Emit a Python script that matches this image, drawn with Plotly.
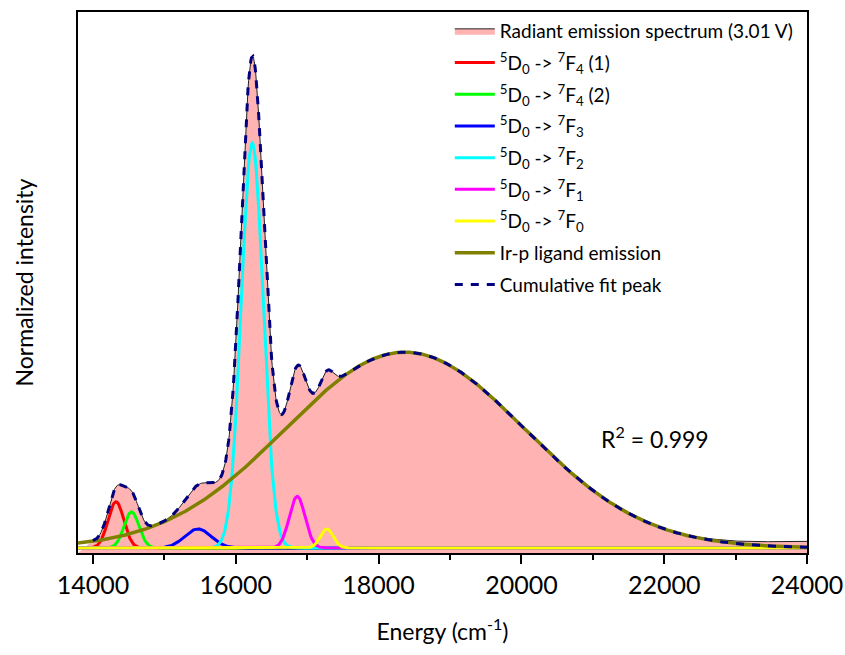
import numpy as np
import plotly.graph_objects as go

# ---- data ----
# Gaussian fit components: centre (cm-1), height (normalized), sigma (cm-1)
comp_names = [
    "<sup>5</sup>D<sub>0</sub> -&gt; <sup>7</sup>F<sub>4</sub> (1)",
    "<sup>5</sup>D<sub>0</sub> -&gt; <sup>7</sup>F<sub>4</sub> (2)",
    "<sup>5</sup>D<sub>0</sub> -&gt; <sup>7</sup>F<sub>3</sub>",
    "<sup>5</sup>D<sub>0</sub> -&gt; <sup>7</sup>F<sub>2</sub>",
    "<sup>5</sup>D<sub>0</sub> -&gt; <sup>7</sup>F<sub>1</sub>",
    "<sup>5</sup>D<sub>0</sub> -&gt; <sup>7</sup>F<sub>0</sub>",
    "Ir-p ligand emission",
]
comp_centers = [14322, 14540, 15470, 16230, 16860, 17275, 18370]
comp_heights = [0.095, 0.074, 0.039, 0.833, 0.106, 0.039, 0.403]
comp_sigmas = [110, 105, 185, 153, 110, 90, 1680]
comp_colors = ["#FF0000", "#00FF00", "#0000FF", "#00FFFF", "#FF00FF", "#FFFF00", "#808000"]

# measured spectrum deviates from the fit only in the high-energy tail
tail_x = [22000, 22500, 23000, 23500, 24000]
tail_dy = [0.0, 0.002, 0.005, 0.009, 0.012]

x_ticks = [14000, 16000, 18000, 20000, 22000, 24000]
x_minor = [15000, 17000, 19000, 21000, 23000]

x_min, x_max = 13790, 24000
spec_start = 14000
y_min, y_max = -0.0105, 1.103

x_full = np.arange(x_min, x_max + 1, 10.0)
x_spec = np.arange(spec_start, x_max + 1, 10.0)


def gauss(x, c, h, s):
    return h * np.exp(-((x - c) ** 2) / (2 * s ** 2))


comps_full = [gauss(x_full, c, h, s) for c, h, s in zip(comp_centers, comp_heights, comp_sigmas)]
cum_fit = sum(gauss(x_spec, c, h, s) for c, h, s in zip(comp_centers, comp_heights, comp_sigmas))
spectrum = cum_fit + np.interp(x_spec, tail_x, tail_dy)

fig = go.Figure()
# baseline for the fill
fig.add_trace(go.Scatter(x=[x_min, x_max], y=[y_min, y_min], mode="lines",
                         line=dict(width=0, color="rgba(0,0,0,0)"), showlegend=False, hoverinfo="skip"))
fig.add_trace(go.Scatter(x=x_spec, y=spectrum, mode="lines", fill="tonexty",
                         fillcolor="#FFB3B3", line=dict(color="#222222", width=1),
                         name="Radiant emission spectrum (3.01 V)", legendgroup="g0"))
for i, (name, y, col) in enumerate(zip(comp_names, comps_full, comp_colors)):
    fig.add_trace(go.Scatter(x=x_full, y=y, mode="lines", name=name, legendgroup=f"g{i + 1}",
                             line=dict(color=col, width=3.5 if col == "#808000" else 3)))
fig.add_trace(go.Scatter(x=x_spec, y=cum_fit, mode="lines", name="Cumulative fit peak",
                         legendgroup="g9",
                         line=dict(color="#000080", width=3, dash="8px,8px")))

fig.add_annotation(x=21871, y=0.228, xref="x", yref="y", text="R<sup>2</sup> = 0.999",
                   showarrow=False, font=dict(size=23, color="black"))

fig.update_layout(
    width=845, height=655,
    margin=dict(l=78, r=38, t=12, b=102),
    paper_bgcolor="white", plot_bgcolor="white",
    font=dict(family="Lato", color="black"),
    legend=dict(x=0.51, y=1.0, xanchor="left", yanchor="top", traceorder="grouped",
                font=dict(size=19), bgcolor="rgba(0,0,0,0)", borderwidth=0,
                tracegroupgap=4, itemwidth=40),
    xaxis=dict(range=[x_min, x_max], tickvals=x_ticks, ticktext=[str(v) for v in x_ticks],
               ticks="outside", ticklen=9, tickwidth=1.5, tickcolor="black", automargin=False,
               minor=dict(tickvals=x_minor, ticks="outside",
                          ticklen=5, tickwidth=1.5, tickcolor="black"),
               tickfont=dict(size=25), showline=True, linecolor="black", linewidth=2,
               mirror=True, showgrid=False, zeroline=False,
               title=dict(text="Energy (cm<sup>-1</sup>)", font=dict(size=23), standoff=26)),
    yaxis=dict(range=[y_min, y_max], showticklabels=False, ticks="", showline=True,
               linecolor="black", linewidth=2, mirror=True, showgrid=False, zeroline=False,
               automargin=False,
               title=dict(text="Normalized intensity", font=dict(size=23), standoff=36)),
)

fig.write_html("out.html")
